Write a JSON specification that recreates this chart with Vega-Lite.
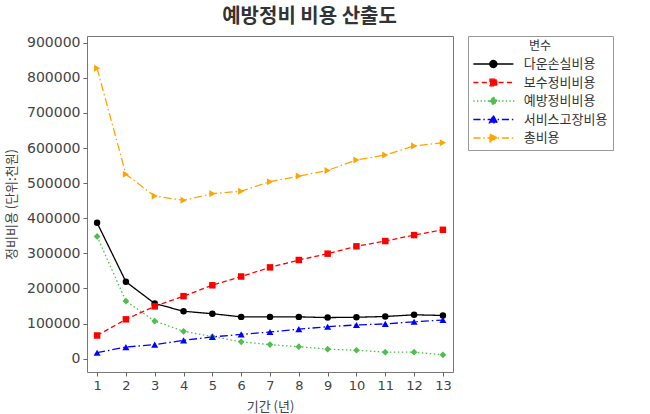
{
  "$schema": "https://vega.github.io/schema/vega-lite/v6.json",
  "width": 366,
  "height": 336,
  "padding": {"left": 5, "top": 6, "right": 5, "bottom": 0},
  "title": {"text": "예방정비 비용 산출도", "font": "Noto Sans CJK KR", "fontSize": 20, "fontWeight": "bold", "color": "#333", "offset": 9, "frame": "bounds", "anchor": "middle"},
  "data": {"values": [
    {"x": 1, "series": "다운손실비용", "value": 387000},
    {"x": 2, "series": "다운손실비용", "value": 219000},
    {"x": 3, "series": "다운손실비용", "value": 157000},
    {"x": 4, "series": "다운손실비용", "value": 135000},
    {"x": 5, "series": "다운손실비용", "value": 128000},
    {"x": 6, "series": "다운손실비용", "value": 119000},
    {"x": 7, "series": "다운손실비용", "value": 119000},
    {"x": 8, "series": "다운손실비용", "value": 119000},
    {"x": 9, "series": "다운손실비용", "value": 117000},
    {"x": 10, "series": "다운손실비용", "value": 118000},
    {"x": 11, "series": "다운손실비용", "value": 120000},
    {"x": 12, "series": "다운손실비용", "value": 125000},
    {"x": 13, "series": "다운손실비용", "value": 123000},
    {"x": 1, "series": "보수정비비용", "value": 66000},
    {"x": 2, "series": "보수정비비용", "value": 112000},
    {"x": 3, "series": "보수정비비용", "value": 149000},
    {"x": 4, "series": "보수정비비용", "value": 178000},
    {"x": 5, "series": "보수정비비용", "value": 209000},
    {"x": 6, "series": "보수정비비용", "value": 234000},
    {"x": 7, "series": "보수정비비용", "value": 260000},
    {"x": 8, "series": "보수정비비용", "value": 281000},
    {"x": 9, "series": "보수정비비용", "value": 299000},
    {"x": 10, "series": "보수정비비용", "value": 320000},
    {"x": 11, "series": "보수정비비용", "value": 335000},
    {"x": 12, "series": "보수정비비용", "value": 352000},
    {"x": 13, "series": "보수정비비용", "value": 367000},
    {"x": 1, "series": "예방정비비용", "value": 348000},
    {"x": 2, "series": "예방정비비용", "value": 164000},
    {"x": 3, "series": "예방정비비용", "value": 107000},
    {"x": 4, "series": "예방정비비용", "value": 78000},
    {"x": 5, "series": "예방정비비용", "value": 63000},
    {"x": 6, "series": "예방정비비용", "value": 48000},
    {"x": 7, "series": "예방정비비용", "value": 40000},
    {"x": 8, "series": "예방정비비용", "value": 34000},
    {"x": 9, "series": "예방정비비용", "value": 27000},
    {"x": 10, "series": "예방정비비용", "value": 24000},
    {"x": 11, "series": "예방정비비용", "value": 18500},
    {"x": 12, "series": "예방정비비용", "value": 18500},
    {"x": 13, "series": "예방정비비용", "value": 11000},
    {"x": 1, "series": "서비스고장비용", "value": 17000},
    {"x": 2, "series": "서비스고장비용", "value": 33000},
    {"x": 3, "series": "서비스고장비용", "value": 40000},
    {"x": 4, "series": "서비스고장비용", "value": 52000},
    {"x": 5, "series": "서비스고장비용", "value": 62000},
    {"x": 6, "series": "서비스고장비용", "value": 69000},
    {"x": 7, "series": "서비스고장비용", "value": 76000},
    {"x": 8, "series": "서비스고장비용", "value": 84000},
    {"x": 9, "series": "서비스고장비용", "value": 91000},
    {"x": 10, "series": "서비스고장비용", "value": 96000},
    {"x": 11, "series": "서비스고장비용", "value": 99000},
    {"x": 12, "series": "서비스고장비용", "value": 105000},
    {"x": 13, "series": "서비스고장비용", "value": 110000},
    {"x": 1, "series": "총비용", "value": 827000},
    {"x": 2, "series": "총비용", "value": 525000},
    {"x": 3, "series": "총비용", "value": 463000},
    {"x": 4, "series": "총비용", "value": 451000},
    {"x": 5, "series": "총비용", "value": 470000},
    {"x": 6, "series": "총비용", "value": 477000},
    {"x": 7, "series": "총비용", "value": 504000},
    {"x": 8, "series": "총비용", "value": 520000},
    {"x": 9, "series": "총비용", "value": 536000},
    {"x": 10, "series": "총비용", "value": 566000},
    {"x": 11, "series": "총비용", "value": 580000},
    {"x": 12, "series": "총비용", "value": 606000},
    {"x": 13, "series": "총비용", "value": 615000}
  ]},
  "encoding": {
    "x": {"field": "x", "type": "quantitative",
      "scale": {"domain": [0.65, 13.35], "nice": false, "zero": false},
      "axis": {"values": [1,2,3,4,5,6,7,8,9,10,11,12,13], "title": "기간 (년)", "grid": false, "domain": false,
        "tickColor": "#666", "tickSize": 4, "labelFont": "DejaVu Sans", "labelFontSize": 13, "labelColor": "#444", "labelPadding": 3,
        "titleFont": "Noto Sans CJK KR", "titleFontSize": 13, "titleFontWeight": "normal", "titleColor": "#444", "titlePadding": 8}},
    "y": {"field": "value", "type": "quantitative",
      "scale": {"domain": [-38000, 919000], "nice": false, "zero": false},
      "axis": {"values": [0,100000,200000,300000,400000,500000,600000,700000,800000,900000], "format": "d",
        "title": "정비비용 (단위:천원)", "grid": false, "domain": false,
        "tickColor": "#666", "tickSize": 4, "labelFont": "DejaVu Sans", "labelFontSize": 14, "labelColor": "#444", "labelPadding": 3,
        "titleFont": "Noto Sans CJK KR", "titleFontSize": 13, "titleFontWeight": "normal", "titleColor": "#444", "titlePadding": 8}}
  },
  "layer": [
    {
      "mark": {"type": "point", "filled": true, "opacity": 0, "strokeWidth": 1.3},
      "encoding": {
        "color": {"field": "series", "type": "nominal",
          "scale": {"domain": ["다운손실비용", "보수정비비용", "예방정비비용", "서비스고장비용", "총비용"],
                    "range": ["#000000", "#ff0000", "#4cbf4c", "#0000ff", "#ffa500"]},
          "legend": {"title": "변수", "orient": "right", "offset": 15, "symbolSize": 256, "symbolStrokeWidth": 1.3, "symbolOpacity": 1,
            "titleFont": "Noto Sans CJK KR", "titleFontSize": 12, "titleFontWeight": "normal", "titleColor": "#333", "titleAnchor": "middle", "titlePadding": 2,
            "labelFont": "Noto Sans CJK KR", "labelFontSize": 13, "labelColor": "#333", "labelOffset": 32.7,
            "strokeColor": "#999", "padding": 5, "rowPadding": 2.5,
            "encode": {"symbols": {"update": {"stroke": {"scale": "color", "field": "value"}, "strokeWidth": {"value": 1.3}, "opacity": {"value": 1}}}}}},
        "shape": {"field": "series", "type": "nominal",
          "scale": {"domain": ["다운손실비용", "보수정비비용", "예방정비비용", "서비스고장비용", "총비용"],
                    "range": [
                      "M-1.08,0H3.92M1.86,0A0.44,0.44,0,1,1,0.98,0A0.44,0.44,0,1,1,1.86,0Z",
                      "M-1.08,0h0.7m0.35,0h0.7m0.35,0h0.7m0.35,0h0.7m0.35,0h0.7M1.0,-0.42H1.84V0.42H1.0Z",
                      "M-1.08,0h0.17m0.28,0h0.17m0.28,0h0.17m0.28,0h0.17m0.28,0h0.17m0.28,0h0.17m0.28,0h0.17m0.28,0h0.17m0.28,0h0.17m0.28,0h0.17m0.28,0h0.17m0.28,0h0.17M1.42,-0.5L1.92,0L1.42,0.5L0.92,0Z",
                      "M-1.08,0h0.9m0.35,0h0.18m0.35,0h0.9m0.35,0h0.18m0.35,0h0.9m0.35,0h0.18M1.42,-0.5L1.92,0.42L0.92,0.42Z",
                      "M-1.08,0h0.9m0.35,0h0.18m0.35,0h0.9m0.35,0h0.18m0.35,0h0.9m0.35,0h0.18M1.0,-0.5L1.92,0L1.0,0.5Z"
                    ]}}
      }
    },
    {
      "mark": {"type": "line", "strokeWidth": 1.3},
      "encoding": {
        "color": {"field": "series", "type": "nominal", "legend": null},
        "strokeDash": {"field": "series", "type": "nominal",
          "scale": {"domain": ["다운손실비용", "보수정비비용", "예방정비비용", "서비스고장비용", "총비용"],
                    "range": [[1, 0], [5, 3], [1.5, 2.5], [8, 3, 1.5, 3], [8, 3, 1.5, 3]]},
          "legend": null}
      }
    },
    {"transform": [{"filter": "datum.series === '다운손실비용'"}], "mark": {"type": "point", "filled": true, "size": 42, "opacity": 1, "shape": "circle"}, "encoding": {"color": {"field": "series", "type": "nominal", "legend": null}}},
    {"transform": [{"filter": "datum.series === '보수정비비용'"}], "mark": {"type": "point", "filled": true, "size": 42, "opacity": 1, "shape": "square"}, "encoding": {"color": {"field": "series", "type": "nominal", "legend": null}}},
    {"transform": [{"filter": "datum.series === '예방정비비용'"}], "mark": {"type": "point", "filled": true, "size": 45, "opacity": 1, "shape": "diamond"}, "encoding": {"color": {"field": "series", "type": "nominal", "legend": null}}},
    {"transform": [{"filter": "datum.series === '서비스고장비용'"}], "mark": {"type": "point", "filled": true, "size": 50, "opacity": 1, "shape": "triangle-up"}, "encoding": {"color": {"field": "series", "type": "nominal", "legend": null}}},
    {"transform": [{"filter": "datum.series === '총비용'"}], "mark": {"type": "point", "filled": true, "size": 50, "opacity": 1, "shape": "triangle-right"}, "encoding": {"color": {"field": "series", "type": "nominal", "legend": null}}}
  ],
  "config": {"view": {"stroke": "#777", "strokeWidth": 1}, "background": "white"}
}
